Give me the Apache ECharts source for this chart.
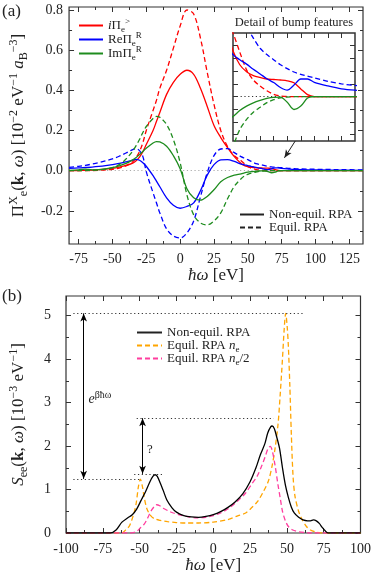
<!DOCTYPE html>
<html>
<head>
<meta charset="utf-8">
<script src="https://cdn.jsdelivr.net/npm/echarts@6/dist/echarts.min.js"></script>
<style>
  html, body { margin: 0; padding: 0; background: #fff; }
  #chart { width: 374px; height: 580px; }
</style>
</head>
<body>
<div id="chart"></div>
<script>
const FONT = 'Liberation Serif';
const INK = '#222';

// ---- panel (a): polarisation functions, 10^-2 eV^-1 a_B^-3
const omegaA = [-82, -75, -70, -65, -60, -55, -50, -45, -40, -35, -32.5, -30, -27.5, -25, -20, -17.5, -15, -10, -5, 0,
    5, 10, 15, 20, 25, 30, 35, 40, 45, 47.5, 50, 52.5, 55, 57.5, 60, 62.5, 65, 67.5, 70, 72.5,
    75, 80, 85, 90, 100, 110, 120, 135];
const iPiNeq = [0, 0.001, 0.002, 0.003, 0.005, 0.008, 0.012, 0.018, 0.026, 0.038, 0.05, 0.068, 0.095, 0.13, 0.2, 0.245, 0.29, 0.38, 0.44, 0.48,
    0.5, 0.48, 0.41, 0.32, 0.225, 0.165, 0.115, 0.07, 0.036, 0.025, 0.0195, 0.0165, 0.015, 0.0138, 0.0134, 0.013, 0.0124, 0.0108, 0.006, 0.0015,
    0, 0, 0, 0, 0, 0, 0, 0];
const iPiEq = [0, 0, 0.001, 0.001, 0.002, 0.004, 0.007, 0.013, 0.024, 0.045, 0.065, 0.095, 0.14, 0.2, 0.3, 0.35, 0.41, 0.5, 0.61, 0.72,
    0.8, 0.78, 0.66, 0.49, 0.33, 0.2, 0.12, 0.075, 0.05, 0.035, 0.021, 0.013, 0.0082, 0.0045, 0.0018, 0.0005, 0, 0, 0, 0,
    0, 0, 0, 0, 0, 0, 0, 0];
const rePiNeq = [0.012, 0.014, 0.016, 0.018, 0.021, 0.025, 0.03, 0.036, 0.044, 0.053, 0.056, 0.052, 0.04, 0.022, -0.025, -0.052, -0.08, -0.135, -0.172, -0.187,
    -0.178, -0.16, -0.1, -0.022, 0.03, 0.054, 0.055, 0.046, 0.033, 0.029, 0.0255, 0.0215, 0.0178, 0.014, 0.011, 0.0071, 0.005, 0.009, 0.0138, 0.0138,
    0.0112, 0.0083, 0.006, 0.005, 0.004, 0.003, 0.003, 0.002];
const rePiEq = [0.017, 0.022, 0.027, 0.033, 0.04, 0.049, 0.059, 0.072, 0.088, 0.105, 0.11, 0.1, 0.07, -0.005, -0.11, -0.16, -0.21, -0.29, -0.325, -0.335,
    -0.31, -0.25, -0.13, -0.01, 0.075, 0.108, 0.11, 0.09, 0.07, 0.062, 0.055, 0.046, 0.038, 0.033, 0.029, 0.025, 0.022, 0.0193, 0.0175, 0.016,
    0.0147, 0.012, 0.01, 0.0087, 0.007, 0.006, 0.005, 0.004];
const imPiNeq = [0.001, 0.004, 0.008, 0.004, 0.005, 0.009, 0.015, 0.024, 0.036, 0.054, 0.066, 0.08, 0.096, 0.112, 0.138, 0.145, 0.143, 0.122, 0.075, 0.01,
    -0.09, -0.135, -0.147, -0.128, -0.095, -0.055, -0.034, -0.022, -0.0157, -0.011, -0.0075, -0.005, -0.0031, -0.0015, -0.0006, -0.0005, -0.0045, -0.0102, -0.0075, -0.0012,
    0, 0, 0, 0, 0, 0, 0, 0];
const imPiEq = [0, 0, 0.001, 0.002, 0.004, 0.008, 0.015, 0.03, 0.058, 0.098, 0.125, 0.155, 0.19, 0.22, 0.26, 0.27, 0.266, 0.23, 0.155, 0.04,
    -0.12, -0.22, -0.26, -0.27, -0.25, -0.21, -0.14, -0.078, -0.04, -0.026, -0.018, -0.0123, -0.0085, -0.0048, -0.0025, -0.001, -0.0004, -0.0001, 0, 0,
    0, 0, 0, 0, 0, 0, 0, 0];

const xTicksA = [-75, -50, -25, 0, 25, 50, 75, 100, 125];
const xMinorA = [-62.5, -37.5, -12.5, 12.5, 37.5, 62.5, 87.5, 112.5];
const yTicksA = [-0.2, 0, 0.2, 0.4, 0.6, 0.8];
const yMinorA = [-0.3, -0.1, 0.1, 0.3, 0.5, 0.7];
const xTicksInset = [50, 55, 60, 65, 70, 75, 80, 85];
const yTicksInset = [-0.03, -0.02, -0.01, 0, 0.01, 0.02, 0.03, 0.04];
const arrowA = [[85, 0.148], [77, 0.064]];

// ---- panel (b): dynamic structure factor, 10^-3 eV^-1
const omegaNeq = [-100, -70, -66, -62, -58, -55, -52, -49, -46, -43, -41, -39.5, -38, -36, -34, -31.5, -28, -25, -20, -15,
    -10, -5, 0, 5, 10, 15, 20, 25, 29, 32, 35, 37, 39, 40, 41.5, 43, 45, 47, 49, 51,
    53, 55, 58, 61, 64, 66, 68, 70, 72, 74, 76, 78, 100];
const seeNeq = [0, 0, 0.07, 0.25, 0.35, 0.42, 0.55, 0.75, 0.95, 1.18, 1.3, 1.34, 1.3, 1.15, 0.98, 0.76, 0.58, 0.48, 0.4, 0.37,
    0.36, 0.38, 0.42, 0.49, 0.59, 0.72, 0.9, 1.18, 1.5, 1.8, 2.05, 2.3, 2.44, 2.46, 2.4, 2.22, 1.95, 1.5, 1.1, 0.82,
    0.6, 0.46, 0.36, 0.3, 0.28, 0.28, 0.3, 0.28, 0.22, 0.13, 0.05, 0, 0];
const omegaEq = [-100, -62, -59.5, -57, -55.3, -53.5, -52.3, -50.8, -49.5, -48, -47, -45, -42.5, -40, -36, -31, -25, -18, -10, 0,
    10, 17, 22, 26, 30, 34, 37.5, 40, 42, 44, 45.5, 47, 48.2, 49.2, 50.2, 51, 52, 53, 54.2, 55.5,
    57.7, 60, 63.3, 66, 70, 74, 100];
const seeEq = [0, 0, 0.07, 0.16, 0.3, 0.5, 0.69, 1.07, 1.24, 1.05, 0.84, 0.55, 0.4, 0.33, 0.29, 0.26, 0.24, 0.23, 0.23, 0.25,
    0.31, 0.4, 0.46, 0.58, 0.72, 0.95, 1.2, 1.55, 1.95, 2.5, 3.2, 4.0, 4.7, 5.05, 4.75, 4.3, 3.4, 2.3, 1.3, 0.85,
    0.53, 0.33, 0.15, 0.07, 0.02, 0, 0];
const omegaHalf = [-100, -56, -52, -49.7, -47, -45.2, -43.5, -41.8, -40, -38.5, -36, -34, -30, -27, -22, -18, -12, -5, 0, 5,
    10.7, 16, 22, 26, 29.7, 33, 35.3, 37.3, 38.7, 40, 42, 44, 45.5, 47, 49, 51, 54, 58, 62, 66, 100];
const seeHalf = [0, 0, 0.04, 0.11, 0.2, 0.3, 0.42, 0.53, 0.61, 0.65, 0.62, 0.57, 0.5, 0.46, 0.41, 0.38, 0.35, 0.36, 0.4, 0.46,
    0.57, 0.72, 0.92, 1.12, 1.3, 1.55, 1.76, 1.95, 1.99, 1.9, 1.55, 1.1, 0.8, 0.5, 0.28, 0.15, 0.07, 0.03, 0.01, 0, 0];

const xTicksB = [-100, -75, -50, -25, 0, 25, 50, 75, 100];
const xMinorB = [-87.5, -62.5, -37.5, -12.5, 12.5, 37.5, 62.5, 87.5];
const yTicksB = [0, 1, 2, 3, 4, 5];
const yMinorB = [0.5, 1.5, 2.5, 3.5, 4.5];
// guide levels: equil. peak, non-equil. peak and their ratio markers
const guideLines = [[[-95, 5.05], [61, 5.05]], [[-52, 2.64], [41, 2.64]], [[-95, 1.245], [-49.7, 1.245]], [[-53.7, 1.36], [-34, 1.36]]];
const guideArrows = [[[-88, 1.245], [-88, 5.05]], [[-48, 1.36], [-48, 2.64]]];

const chart = echarts.init(document.getElementById('chart'));

const rich = (size) => ({
    n: { fontFamily: FONT, fontSize: size, color: INK, lineHeight: Math.round(size * 1.3) },
    it: { fontFamily: FONT, fontSize: size, fontStyle: 'italic', color: INK, lineHeight: Math.round(size * 1.3) },
    b: { fontFamily: FONT, fontSize: size, fontWeight: 'bold', color: INK, lineHeight: Math.round(size * 1.3) },
    sup: { fontFamily: FONT, fontSize: Math.round(size * 0.7), color: INK, verticalAlign: 'top' },
    sub: { fontFamily: FONT, fontSize: Math.round(size * 0.7), color: INK, verticalAlign: 'bottom' },
});

const xAxes = [];
const yAxes = [];
// builds a boxed set of axes: labelled main ticks + minor ticks, mirrored on the opposite side
const frame = (gridIndex, dim, range, majors, minors, label, name, z) => {
    const list = dim === 'x' ? xAxes : yAxes;
    const sides = dim === 'x' ? ['bottom', 'top'] : ['left', 'right'];
    let dataIdx = -1;
    sides.forEach((pos, si) => {
        [[majors, 5], [minors, 3]].forEach(([vals, len], ti) => {
            if (!vals || !vals.length) return;
            const ax = {
                type: 'value', gridIndex, position: pos, min: range[0], max: range[1], z: z || 0,
                axisLine: { show: false, onZero: false },
                axisTick: { show: true, inside: true, length: len, customValues: vals, lineStyle: { color: '#333', width: 1 } },
                axisLabel: { show: false },
                splitLine: { show: false },
            };
            const main = si === 0 && ti === 0;
            if (main && label) ax.axisLabel = Object.assign({ show: true, customValues: vals, color: INK, fontFamily: FONT, fontSize: 14 }, label);
            if (main && name) Object.assign(ax, name);
            list.push(ax);
            if (main) dataIdx = list.length - 1;
        });
    });
    return dataIdx;
};

const xa = frame(0, 'x', [-82, 135], xTicksA, xMinorA, { margin: 8 }, {
    name: '{it|ħω}{n| [eV]}', nameLocation: 'middle', nameGap: 21,
    nameTextStyle: { rich: rich(17) },
});
const ya = frame(0, 'y', [-0.365, 0.815], yTicksA, yMinorA, { margin: 6, formatter: v => v.toFixed(1) }, {
    name: '{n|Π}{sup|X}{sub|e}{n|(}{b|k}{n|, }{it|ω}{n|) [10}{sup|−2}{n| eV}{sup|−1}{it| a}{sub|B}{sup|−3}{n|]}',
    nameLocation: 'middle', nameRotate: 90, nameGap: 38,
    nameTextStyle: { rich: rich(17) },
});
const xb = frame(1, 'x', [-100, 100], xTicksB, xMinorB, { margin: 9 }, {
    name: '{it|ħω}{n| [eV]}', nameLocation: 'middle', nameGap: 22,
    nameTextStyle: { rich: rich(17) },
});
const yb = frame(1, 'y', [0, 5.45], yTicksB, yMinorB, { margin: 15 }, {
    name: '{it|S}{sub|ee}{n|(}{b|k}{n|, }{it|ω}{n|) [10}{sup|−3}{n| eV}{sup|−1}{n|]}',
    nameLocation: 'middle', nameRotate: 90, nameGap: 36,
    nameTextStyle: { rich: rich(17) },
});
const xi = frame(2, 'x', [45, 90], xTicksInset, null, null, null, 6);
const yi = frame(2, 'y', [-0.035, 0.05], yTicksInset, null, null, null, 6);

const pairs = (xs, ys) => xs.map((x, i) => [x, ys[i]]);
const line = (name, xs, ys, color, dashed, xIdx, yIdx, extra) => Object.assign({
    name, type: 'line', xAxisIndex: xIdx, yAxisIndex: yIdx,
    data: pairs(xs, ys), symbol: 'none', showSymbol: false, smooth: 0.35, silent: true,
    lineStyle: { color, width: 1.3, type: dashed ? [5, 3] : 'solid' },
    itemStyle: { color },
}, extra || {});

const RED = '#ff0000', BLUE = '#0000ff', GREEN = '#1e8c1e', ORANGE = '#ffa500', PINK = '#ff3d9e';
const curvesA = [
    ['iPi', iPiNeq, RED, false], ['iPi eq', iPiEq, RED, true],
    ['rePi', rePiNeq, BLUE, false], ['rePi eq', rePiEq, BLUE, true],
    ['imPi', imPiNeq, GREEN, false], ['imPi eq', imPiEq, GREEN, true],
];

const dotted = (color) => ({ color, width: 1, type: [1.2, 2.6] });
const series = [];
curvesA.forEach(([name, ys, color, dashed]) => {
    series.push(line(name, omegaA, ys, color, dashed, xa, ya));
});
series[0].markLine = {
    silent: true, symbol: ['none', 'none'], label: { show: false },
    lineStyle: dotted('#aaa'), data: [{ yAxis: 0 }], z: 1,
};
series[1].markLine = {
    silent: true, label: { show: false }, lineStyle: { color: INK, width: 1, type: 'solid' },
    data: [[{ coord: arrowA[0], symbol: 'none' }, { coord: arrowA[1], symbol: 'arrow', symbolSize: [5, 8] }]],
};
curvesA.forEach(([name, ys, color, dashed]) => {
    series.push(line(name + ' inset', omegaA, ys, color, dashed, xi, yi, { z: 7, smooth: 0.3 }));
});
series[6].markLine = {
    silent: true, symbol: ['none', 'none'], label: { show: false },
    lineStyle: dotted('#333'), data: [{ yAxis: 0 }],
};
series.push(line('Non-equil. RPA', [], [], INK, false, xa, ya));
series.push(line('Equil. RPA', [], [], INK, true, xa, ya));

const eqBlack = line('Non-equil. RPA', omegaNeq, seeNeq, '#000', false, xb, yb, { z: 4, smooth: 0.3 });
eqBlack.markLine = {
    silent: true, label: { show: false },
    data: guideLines.map(([a, b]) => [
        { coord: a, symbol: 'none', lineStyle: dotted('#333') },
        { coord: b, symbol: 'none' },
    ]).concat(guideArrows.map(([a, b]) => [
        { coord: a, symbol: 'arrow', symbolSize: [5, 8], lineStyle: { color: '#000', width: 1, type: 'solid' } },
        { coord: b, symbol: 'arrow', symbolSize: [5, 8] },
    ])),
};
eqBlack.markPoint = {
    silent: true, symbol: 'circle', symbolSize: 0,
    data: [
        { coord: [-77, 3.08], label: { show: true, position: 'inside', formatter: '{it|e}{sup|βħω}', rich: rich(14) } },
        { coord: [-43, 1.91], label: { show: true, position: 'inside', formatter: '{n|?}', rich: rich(13) } },
    ],
};
series.push(line('Equil. RPA ne', omegaEq, seeEq, ORANGE, true, xb, yb, { z: 3, smooth: 0.3 }));
series.push(line('Equil. RPA ne/2', omegaHalf, seeHalf, PINK, true, xb, yb, { z: 3, smooth: 0.3 }));
series.push(eqBlack);

const legendAt = (name, left, top, width, formatter) => ({
    data: [name], left, top, orient: 'vertical', padding: 0, itemGap: 0,
    itemWidth: width, itemHeight: 10, selectedMode: false, formatter,
    itemStyle: { opacity: 0 },
    textStyle: { fontFamily: FONT, fontSize: 13, color: INK, rich: rich(13) },
});

chart.setOption({
    animation: false,
    textStyle: { fontFamily: FONT },
    grid: [
        { left: 65, top: 7, width: 298, height: 237, show: true, borderColor: '#333', borderWidth: 1.2, backgroundColor: 'transparent', z: 0 },
        { left: 65, top: 296, width: 298, height: 237, show: true, borderColor: '#333', borderWidth: 1.2, backgroundColor: 'transparent', z: 0 },
        { left: 233, top: 33, width: 122, height: 108, show: true, borderColor: '#333', borderWidth: 1.5, backgroundColor: '#fff', z: 5 },
    ],
    xAxis: xAxes,
    yAxis: yAxes,
    legend: [
        legendAt('iPi', 78, 17, 24, () => '{it|i}{n|Π}{sub|e}{sup|>}'),
        legendAt('rePi', 78, 31, 24, () => '{n|ReΠ}{sub|e}{sup|R}'),
        legendAt('imPi', 78, 45, 24, () => '{n|ImΠ}{sub|e}{sup|R}'),
        legendAt('Non-equil. RPA', 239, 208, 24),
        legendAt('Equil. RPA', 239, 221, 24),
        legendAt('Non-equil. RPA', 136, 326, 25),
        legendAt('Equil. RPA ne', 136, 339, 25, () => '{n|Equil. RPA }{it|n}{sub|e}'),
        legendAt('Equil. RPA ne/2', 136, 352, 25, () => '{n|Equil. RPA }{it|n}{sub|e}{n|/2}'),
    ],
    graphic: [
        { type: 'text', left: 2, top: 3, style: { text: '(a)', font: '17px "Liberation Serif"', fill: INK } },
        { type: 'text', left: 2, top: 288, style: { text: '(b)', font: '17px "Liberation Serif"', fill: INK } },
        { type: 'text', x: 294, y: 23, style: { text: 'Detail of bump features', font: '12.5px "Liberation Serif"', fill: INK, textAlign: 'center', textVerticalAlign: 'middle' } },
    ],
    series,
});
</script>
</body>
</html>
